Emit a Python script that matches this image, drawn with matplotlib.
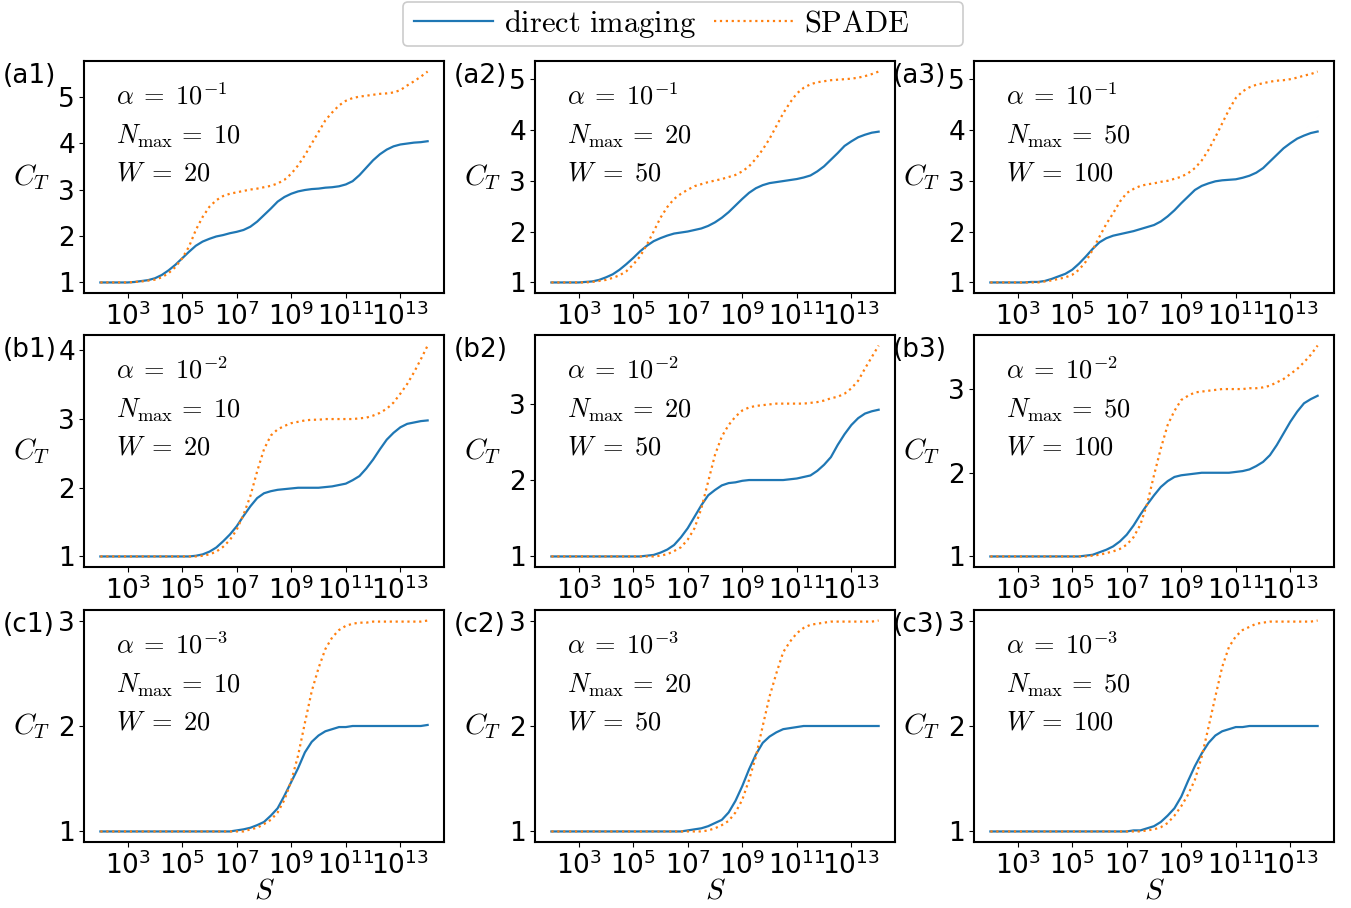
import matplotlib.pyplot as plt
import numpy as np
from matplotlib.font_manager import FontProperties
from matplotlib.patches import FancyBboxPatch
from matplotlib.transforms import IdentityTransform
from matplotlib.ticker import MultipleLocator, NullLocator

# log10 of S, sampled every quarter decade
s_exp = [2, 2.25, 2.5, 2.75, 3, 3.25, 3.5, 3.75, 4, 4.25, 4.5, 4.75,
         5, 5.25, 5.5, 5.75, 6, 6.25, 6.5, 6.75, 7, 7.25, 7.5, 7.75,
         8, 8.25, 8.5, 8.75, 9, 9.25, 9.5, 9.75, 10, 10.25, 10.5, 10.75,
         11, 11.25, 11.5, 11.75, 12, 12.25, 12.5, 12.75, 13, 13.25, 13.5, 13.75, 14]

direct_a1 = [1.0, 1.0, 1.0, 1.0, 1.0, 1.01, 1.03, 1.05, 1.09, 1.16, 1.26, 1.38,
             1.52, 1.66, 1.79, 1.88, 1.94, 1.99, 2.02, 2.06, 2.09, 2.13, 2.2, 2.31,
             2.45, 2.59, 2.74, 2.84, 2.91, 2.96, 2.99, 3.01, 3.02, 3.04, 3.05, 3.07,
             3.11, 3.18, 3.31, 3.47, 3.63, 3.76, 3.86, 3.93, 3.97, 3.99, 4.01, 4.02, 4.04]
spade_a1 = [1.0, 1.0, 1.0, 1.0, 1.0, 1.01, 1.02, 1.04, 1.06, 1.11, 1.2, 1.33,
            1.52, 1.77, 2.13, 2.41, 2.63, 2.77, 2.86, 2.91, 2.94, 2.97, 3.0, 3.02,
            3.05, 3.08, 3.13, 3.21, 3.34, 3.52, 3.74, 3.99, 4.24, 4.49, 4.66, 4.81,
            4.91, 4.97, 5.0, 5.02, 5.04, 5.06, 5.07, 5.09, 5.14, 5.24, 5.33, 5.43, 5.54]
direct_a2 = ([1.0] * 5 +
             [1.01, 1.02, 1.05, 1.1, 1.16, 1.25, 1.36, 1.48, 1.61, 1.72, 1.81,
              1.87, 1.92, 1.96, 1.98, 2.0, 2.03, 2.06, 2.11, 2.18, 2.27, 2.38, 2.51,
              2.64, 2.76, 2.85, 2.91, 2.95, 2.97, 2.99, 3.01, 3.03, 3.06, 3.1, 3.18,
              3.28, 3.41, 3.54, 3.68, 3.77, 3.85, 3.9, 3.94, 3.96])
spade_a2 = ([1.0] * 6 +
            [1.01, 1.03, 1.05, 1.09, 1.14, 1.22, 1.35, 1.51, 1.74, 2.0, 2.27, 2.48,
             2.64, 2.74, 2.82, 2.89, 2.93, 2.97, 3.0, 3.03, 3.07, 3.11, 3.18, 3.28,
             3.43, 3.61, 3.82, 4.07, 4.32, 4.53, 4.71, 4.82, 4.89, 4.93, 4.95, 4.97,
             4.98, 4.99, 5.0, 5.02, 5.05, 5.09, 5.14])
direct_a3 = ([1.0] * 6 +
             [1.01, 1.01, 1.03, 1.07, 1.12, 1.17, 1.25, 1.37, 1.51, 1.66, 1.79, 1.87,
              1.92, 1.95, 1.98, 2.01, 2.05, 2.09, 2.13, 2.2, 2.3, 2.42, 2.56, 2.69,
              2.82, 2.9, 2.95, 2.99, 3.01, 3.02, 3.03, 3.06, 3.1, 3.16, 3.25, 3.38,
              3.51, 3.64, 3.74, 3.83, 3.89, 3.94, 3.97])
spade_a3 = ([1.0] * 8 +
            [1.02, 1.04, 1.07, 1.1, 1.15, 1.25, 1.41, 1.64, 1.9, 2.15, 2.36, 2.59,
             2.76, 2.84, 2.9, 2.93, 2.95, 2.98, 3.0, 3.04, 3.08, 3.15, 3.25, 3.4,
             3.61, 3.86, 4.13, 4.4, 4.63, 4.76, 4.84, 4.89, 4.92, 4.95, 4.97, 4.98,
             5.0, 5.03, 5.07, 5.1, 5.15])

direct_b1 = ([1.0] * 13 +
             [1.0, 1.01, 1.03, 1.07, 1.13, 1.22, 1.32, 1.44, 1.59, 1.73, 1.85,
              1.92, 1.95, 1.97, 1.98, 1.99, 2.0, 2.0, 2.0, 2.0, 2.01, 2.02, 2.04,
              2.06, 2.11, 2.17, 2.28, 2.41, 2.56, 2.7, 2.8, 2.88, 2.93, 2.95, 2.97, 2.98])
spade_b1 = ([1.0] * 15 +
            [1.01, 1.03, 1.07, 1.14, 1.24, 1.39, 1.61, 1.88, 2.24, 2.56, 2.76, 2.85,
             2.9, 2.94, 2.96, 2.98, 2.99, 2.99, 3.0, 3.0, 3.0, 3.0, 3.0, 3.01, 3.02,
             3.05, 3.09, 3.15, 3.24, 3.37, 3.51, 3.68, 3.87, 4.07])
direct_b2 = ([1.0] * 14 +
             [1.01, 1.02, 1.05, 1.09, 1.15, 1.25, 1.37, 1.52, 1.67, 1.8, 1.87, 1.93,
              1.96, 1.97, 1.99, 2.0, 2.0, 2.0, 2.0, 2.0, 2.0, 2.01, 2.02, 2.04, 2.06,
              2.12, 2.2, 2.3, 2.46, 2.6, 2.72, 2.81, 2.87, 2.9, 2.92])
spade_b2 = ([1.0] * 16 +
            [1.01, 1.03, 1.07, 1.12, 1.22, 1.37, 1.63, 1.98, 2.33, 2.57, 2.72, 2.83,
             2.91, 2.95, 2.97, 2.98, 2.99, 3.0, 3.0, 3.0, 3.0, 3.0, 3.01, 3.02, 3.04,
             3.07, 3.09, 3.13, 3.2, 3.3, 3.46, 3.61, 3.76])
direct_b3 = ([1.0] * 14 +
             [1.01, 1.02, 1.05, 1.08, 1.12, 1.18, 1.26, 1.37, 1.5, 1.62, 1.73, 1.83,
              1.9, 1.95, 1.97, 1.98, 1.99, 2.0, 2.0, 2.0, 2.0, 2.0, 2.01, 2.02, 2.04,
              2.08, 2.13, 2.21, 2.33, 2.47, 2.61, 2.73, 2.83, 2.88, 2.92])
spade_b3 = ([1.0] * 15 +
            [1.01, 1.02, 1.04, 1.06, 1.09, 1.14, 1.23, 1.38, 1.63, 1.97, 2.29, 2.57,
             2.74, 2.87, 2.92, 2.96, 2.97, 2.98, 2.99, 3.0, 3.0, 3.0, 3.0, 3.01, 3.01,
             3.02, 3.04, 3.08, 3.12, 3.18, 3.24, 3.32, 3.41, 3.52])

direct_c1 = ([1.0] * 20 +
             [1.01, 1.02, 1.035, 1.06, 1.09, 1.15, 1.22, 1.34, 1.47, 1.6, 1.75, 1.85,
              1.91, 1.95, 1.97, 1.99, 1.99] +
             [2.0] * 11 + [2.01])
spade_c1 = ([1.0] * 22 +
            [1.02, 1.035, 1.07, 1.11, 1.18, 1.3, 1.48, 1.72, 2.03, 2.33, 2.55, 2.73,
             2.84, 2.91, 2.95, 2.97, 2.98, 2.98, 2.99] +
            [2.99] * 7 + [3.0])
direct_c2 = ([1.0] * 20 +
             [1.01, 1.02, 1.03, 1.05, 1.08, 1.11, 1.18, 1.29, 1.43, 1.59, 1.73, 1.84,
              1.9, 1.94, 1.97, 1.98, 1.99] +
             [2.0] * 12)
spade_c2 = ([1.0] * 23 +
            [1.01, 1.03, 1.06, 1.1, 1.18, 1.3, 1.49, 1.71, 2.0, 2.28, 2.5, 2.7,
             2.8, 2.88, 2.93, 2.96, 2.97, 2.98] +
            [2.99] * 7 + [3.0])
direct_c3 = ([1.0] * 20 +
             [1.0, 1.01, 1.01, 1.03, 1.05, 1.09, 1.15, 1.22, 1.33, 1.48, 1.62, 1.74,
              1.84, 1.91, 1.95, 1.97, 1.99, 1.99] +
             [2.0] * 11)
spade_c3 = ([1.0] * 23 +
            [1.01, 1.02, 1.04, 1.08, 1.15, 1.24, 1.35, 1.49, 1.71, 1.99, 2.28, 2.56,
             2.75, 2.85, 2.91, 2.94, 2.97, 2.98] +
            [2.99] * 7 + [3.0])

alpha_exp = [-1, -2, -3]
n_max = [10, 20, 50]
widths = [20, 50, 100]
rows = ["a", "b", "c"]

direct = [[direct_a1, direct_a2, direct_a3],
          [direct_b1, direct_b2, direct_b3],
          [direct_c1, direct_c2, direct_c3]]
spade = [[spade_a1, spade_a2, spade_a3],
         [spade_b1, spade_b2, spade_b3],
         [spade_c1, spade_c2, spade_c3]]

S = 10.0 ** np.array(s_exp)

W_PX, H_PX = 1351, 908
fig = plt.figure(figsize=(W_PX / 100, H_PX / 100), dpi=100)

col_left = [84, 535, 974]
row_top = [61, 335, 610]
ax_w, ax_h = 360, 232

cm = dict(math_fontfamily="cm")
line_dir = line_sp = None

for i in range(3):
    for j in range(3):
        ax = fig.add_axes([col_left[j] / W_PX, (H_PX - row_top[i] - ax_h) / H_PX,
                           ax_w / W_PX, ax_h / H_PX])
        line_dir, = ax.plot(S, direct[i][j], color="#1f77b4", lw=1.6)
        line_sp, = ax.plot(S, spade[i][j], color="#ff7f0e", lw=1.6, ls=":")
        ax.set_xscale("log")
        ax.set_xticks([1e3, 1e5, 1e7, 1e9, 1e11, 1e13])
        ax.xaxis.set_minor_locator(NullLocator())
        ax.yaxis.set_major_locator(MultipleLocator(1))
        ax.tick_params(labelsize=19, pad=3)
        for sp in ax.spines.values():
            sp.set_linewidth(1.5)

        ax.set_ylabel("$C_T$", rotation=0, fontsize=21, ha="right", va="center",
                      labelpad=6, **cm)
        if i == 2:
            ax.set_xlabel("$S$", fontsize=21, labelpad=-2, **cm)

        ax.text(0.09, 0.845, r"$\alpha\;=\;10^{%d}$" % alpha_exp[i],
                transform=ax.transAxes, fontsize=19, va="center", **cm)
        ax.text(0.09, 0.675, r"$N_{\rm max}\,=\;%d$" % n_max[j],
                transform=ax.transAxes, fontsize=19, va="center", **cm)
        ax.text(0.09, 0.515, r"$W\;=\;%d$" % widths[j],
                transform=ax.transAxes, fontsize=19, va="center", **cm)

        ax.text(-0.225, 0.99, "(%s%d)" % (rows[i], j + 1), transform=ax.transAxes,
                fontsize=19, ha="left", va="top")

# legend box drawn in pixels so it can be wider than its entries
frame = FancyBboxPatch((403, H_PX - 46), 560, 44,
                       boxstyle="round,pad=0,rounding_size=5",
                       transform=IdentityTransform(), facecolor="white",
                       edgecolor="0.8", lw=1.2, zorder=5)
fig.patches.append(frame)

fig.legend([line_dir, line_sp],
           [r"$\mathrm{direct\ imaging}$", r"$\mathrm{SPADE}$"],
           loc="upper left", bbox_to_anchor=(406 / W_PX, 1.0), ncol=2,
           prop=FontProperties(size=22, math_fontfamily="cm"),
           handlelength=2.6, handletextpad=0.35, columnspacing=0.6,
           borderpad=0.2, borderaxespad=0.05, frameon=False)

fig.savefig("out.png", dpi=100)
